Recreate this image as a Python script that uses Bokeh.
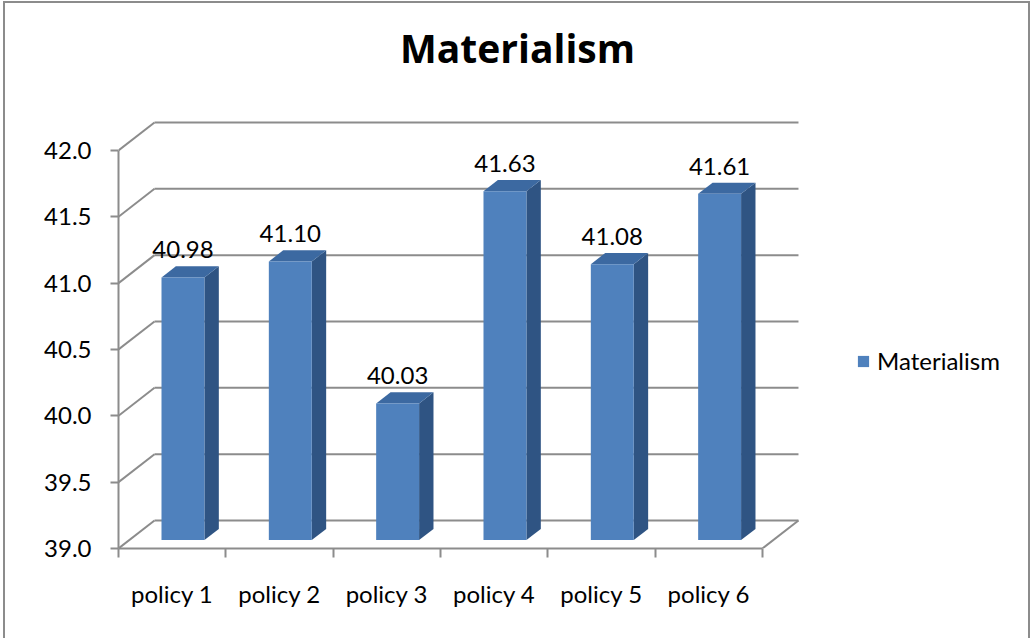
import numpy as np
from bokeh.plotting import figure
from bokeh.models import (FixedTicker, Legend, LegendItem, Label, Range1d,
                          PrintfTickFormatter)
from bokeh.embed import file_html
from bokeh.resources import INLINE
from bokeh.core.properties import value

# ---------------- data ----------------
categories = ["policy 1", "policy 2", "policy 3", "policy 4", "policy 5", "policy 6"]
values = [40.98, 41.10, 40.03, 41.63, 41.08, 41.61]
value_labels = ["40.98", "41.10", "40.03", "41.63", "41.08", "41.61"]
y_ticks = [39.0, 39.5, 40.0, 40.5, 41.0, 41.5, 42.0]
series_name = "Materialism"
title_text = "Materialism"

# ---------------- geometry / style ----------------
W, H = 1027, 637            # canvas size (inside css border)
ML, MB = 113, 92            # left / bottom panels -> frame position
PX_PER_CAT = 107.33         # pixels per category
PX_PER_UNIT = 132.67        # pixels per value unit
Y0 = y_ticks[0]
x_end = (W - ML) / PX_PER_CAT
y_end = Y0 + (H - MB) / PX_PER_UNIT
DEPTH_X = 36 / PX_PER_CAT   # 3-D depth offsets in data units
DEPTH_Y = 28 / PX_PER_UNIT
BAR_W = 0.4
BAR_DEPTH = 0.4
BAR_Z = 0.3
LABEL_GAP = 16.5 / PX_PER_UNIT

FRONT = "#4f81bd"
TOP = "#3c69a1"
SIDE = "#2f5483"
GRID = "#8c8c8c"
FONT = "Lato"
FS = "24px"

n = len(values)
ncat = len(categories)
idx = np.arange(n)

p = figure(width=W, height=H, output_backend="svg", toolbar_location=None,
           x_range=Range1d(0, x_end), y_range=Range1d(Y0, y_end),
           min_border_left=ML, min_border_bottom=MB,
           min_border_right=0, min_border_top=0)
p.outline_line_color = None
p.xgrid.visible = False
p.ygrid.visible = False
p.background_fill_color = "white"
p.border_fill_color = "white"
p.styles = {"border-left": "2px solid #8c8c8c", "border-top": "2px solid #8c8c8c",
            "border-right": "2px solid #8c8c8c", "margin-left": "3px", "margin-top": "1px"}

# ---------------- back wall / floor lines ----------------
yt = np.array(y_ticks)
p.segment(x0=np.full(len(yt), DEPTH_X), y0=yt + DEPTH_Y,
          x1=np.full(len(yt), ncat + DEPTH_X), y1=yt + DEPTH_Y,
          line_color=GRID, line_width=2)
p.segment(x0=np.zeros(len(yt)), y0=yt, x1=np.full(len(yt), DEPTH_X), y1=yt + DEPTH_Y,
          line_color=GRID, line_width=2)
p.segment(x0=[ncat], y0=[Y0], x1=[ncat + DEPTH_X], y1=[Y0 + DEPTH_Y],
          line_color=GRID, line_width=2)

# ---------------- 3-D bars ----------------
fx, fy = BAR_Z * DEPTH_X, BAR_Z * DEPTH_Y
bx, by = BAR_DEPTH * DEPTH_X, BAR_DEPTH * DEPTH_Y
vals = np.array(values)
left = idx + (1 - BAR_W) / 2 + fx
right = left + BAR_W
bottom = Y0 + fy
top = vals + fy

side_xs = [[r, r + bx, r + bx, r] for r in right]
side_ys = [[bottom, bottom + by, t + by, t] for t in top]
p.patches(side_xs, side_ys, fill_color=SIDE, line_color=None)
top_xs = [[l, l + bx, r + bx, r] for l, r in zip(left, right)]
top_ys = [[t, t + by, t + by, t] for t in top]
p.patches(top_xs, top_ys, fill_color=TOP, line_color=None)
front = p.quad(left=left, right=right, bottom=bottom, top=top,
               fill_color=FRONT, line_color=None)

# value labels
p.text(x=idx + 0.5 + fx, y=top + by + LABEL_GAP, text=value_labels,
       text_align="center", text_baseline="middle",
       text_font=value(FONT), text_font_size=FS, text_color="black")

# ---------------- axes ----------------
xa = p.xaxis[0]
xa.ticker = FixedTicker(ticks=list(idx + 0.5), minor_ticks=list(range(ncat + 1)))
xa.major_label_overrides = {float(i + 0.5): c for i, c in enumerate(categories)}
xa.bounds = (0, ncat)
xa.major_tick_out = 0
xa.major_tick_in = 0
xa.minor_tick_out = 9
xa.minor_tick_in = 0
xa.minor_tick_line_color = GRID
xa.minor_tick_line_width = 2
xa.axis_line_color = GRID
xa.axis_line_width = 2
xa.major_label_standoff = 21
xa.major_label_text_font = FONT
xa.major_label_text_font_size = FS
xa.major_label_text_color = "black"

ya = p.yaxis[0]
ya.ticker = FixedTicker(ticks=y_ticks, minor_ticks=[])
ya.formatter = PrintfTickFormatter(format="%.1f")
ya.bounds = (y_ticks[0], y_ticks[-1])
ya.major_tick_out = 8
ya.major_tick_in = 0
ya.major_tick_line_color = GRID
ya.major_tick_line_width = 2
ya.axis_line_color = GRID
ya.axis_line_width = 2
ya.major_label_standoff = 19
ya.major_label_text_font = FONT
ya.major_label_text_font_size = FS
ya.major_label_text_color = "black"

# ---------------- title ----------------
title = Label(x=(517 - 118) / PX_PER_CAT, y=Y0 + (548 - 47) / PX_PER_UNIT,
              text=title_text, text_align="center", text_baseline="middle",
              text_font="Open Sans", text_font_style="bold", text_font_size="39px",
              text_color="black")
p.add_layout(title)

# ---------------- legend ----------------
legend = Legend(items=[LegendItem(label=series_name, renderers=[front])],
                location=(738, 173), glyph_width=14, glyph_height=14,
                label_standoff=7, label_text_font=FONT, label_text_font_size=FS,
                label_text_color="black", border_line_color=None,
                background_fill_alpha=0, padding=0, margin=0, spacing=0)
p.add_layout(legend)

open("out.html", "w").write(file_html(p, INLINE))
